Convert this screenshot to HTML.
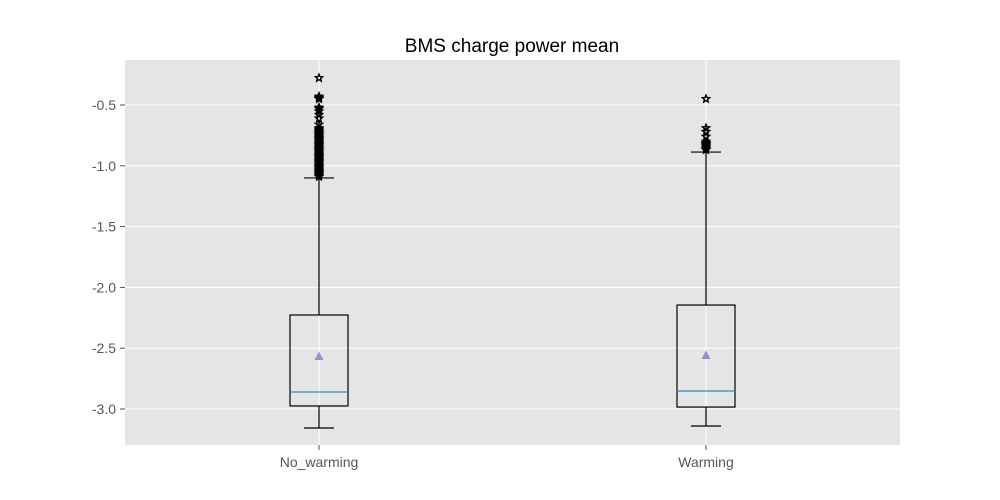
<!DOCTYPE html>
<html><head><meta charset="utf-8"><style>
body{margin:0;background:#fff;}
svg{display:block;font-family:"Liberation Sans","DejaVu Sans",sans-serif;}
</style></head><body>
<svg id="chart" width="1000" height="500">
<rect x="125" y="60" width="775" height="385" fill="#e5e5e5"/>
<text x="512" y="52" text-anchor="middle" font-size="19" fill="#000">BMS charge power mean</text>
<g id="grid"></g><g id="ticks"></g><g id="boxes"></g>
</svg>
<script>
const categories = ["No_warming", "Warming"];
const q1s = [-2.975, -2.984];
const medians = [-2.86, -2.852];
const q3s = [-2.227, -2.145];
const whiskLow = [-3.156, -3.14];
const whiskHigh = [-1.10, -0.887];
const means = [-2.564, -2.556];
const outliers = [
  [-0.278,-0.43,-0.44,-0.45,-0.52,-0.53,-0.55,-0.58,-0.61,-0.66,-0.69,-0.70,-0.71,-0.72,-0.73,-0.74,-0.75,-0.76,-0.77,-0.78,-0.79,-0.80,-0.81,-0.82,-0.83,-0.84,-0.85,-0.86,-0.87,-0.88,-0.89,-0.90,-0.91,-0.92,-0.93,-0.94,-0.95,-0.96,-0.97,-0.98,-0.99,-1.00,-1.01,-1.02,-1.03,-1.04,-1.05,-1.06,-1.07,-1.08,-1.09],
  [-0.45,-0.69,-0.72,-0.76,-0.80,-0.81,-0.82,-0.83,-0.84,-0.85,-0.86,-0.87]
];
const yTicks = [-0.5,-1.0,-1.5,-2.0,-2.5,-3.0];
const NS="http://www.w3.org/2000/svg";
const y = v => 105 + (-0.5 - v) * 121.6;
const x = i => [319, 706][i];
function mk(tag, attrs, parent){const e=document.createElementNS(NS,tag);for(const k in attrs)e.setAttribute(k,attrs[k]);document.getElementById(parent).appendChild(e);return e;}
yTicks.forEach(t=>{
  const l=mk('line',{x1:125,x2:900,y1:y(t),y2:y(t),stroke:'#fff','stroke-width':1},'grid');
  
  
  const tk=mk('line',{x1:120,x2:125,y1:y(t),y2:y(t),stroke:'#555'},'ticks');
  
  
  const tx=mk('text',{x:116,y:y(t)+5,'text-anchor':'end','font-size':14,fill:'#555'},'ticks');
  tx.textContent=t.toFixed(1);
  
  
});
categories.forEach((c,i)=>{
  const cx=x(i);
  const g=mk('line',{x1:cx,x2:cx,y1:60,y2:445,stroke:'#fff'},'grid');
  
  
  const tk=mk('line',{x1:cx,x2:cx,y1:445,y2:450,stroke:'#555'},'ticks');
  
  
  const tx=mk('text',{x:cx,y:467,'text-anchor':'middle','font-size':14,fill:'#555'},'ticks');
  tx.textContent=c;
  
  
  const s={stroke:'#000','stroke-width':1.2,fill:'none'};
  const w1=mk('line',Object.assign({x1:cx,x2:cx,y1:y(q1s[i]),y2:y(whiskLow[i])},s),'boxes');
  
  
  const w2=mk('line',Object.assign({x1:cx,x2:cx,y1:y(q3s[i]),y2:y(whiskHigh[i])},s),'boxes');
  
  
  const c1=mk('line',Object.assign({x1:cx-15,x2:cx+15,y1:y(whiskLow[i]),y2:y(whiskLow[i])},s),'boxes');
  
  
  const c2=mk('line',Object.assign({x1:cx-15,x2:cx+15,y1:y(whiskHigh[i]),y2:y(whiskHigh[i])},s),'boxes');
  
  
  const b=mk('rect',Object.assign({x:cx-29,width:58,y:y(q3s[i]),height:y(q1s[i])-y(q3s[i])},s),'boxes');
  
  
  const m=mk('line',{x1:cx-29,x2:cx+29,y1:y(medians[i]),y2:y(medians[i]),stroke:'#348abd','stroke-width':1.3},'boxes');
  
  
  const my=y(means[i]);
  const tr=mk('polygon',{points:`${cx-4.5},${my+4} ${cx+4.5},${my+4} ${cx},${my-4.5}`,fill:'#988ed5'},'boxes');
  
  
  outliers[i].forEach(v=>{
    const oy=y(v);let p=[];
    for(let k=0;k<10;k++){const r=k%2?1.7:3.8;const a=-Math.PI/2+k*Math.PI/5;p.push((cx+r*Math.cos(a)).toFixed(2)+','+(oy+r*Math.sin(a)).toFixed(2));}
    const o=mk('polygon',{points:p.join(' '),fill:'none',stroke:'#000','stroke-width':1.4},'boxes');
    
    
  });
});
</script>
</body></html>
